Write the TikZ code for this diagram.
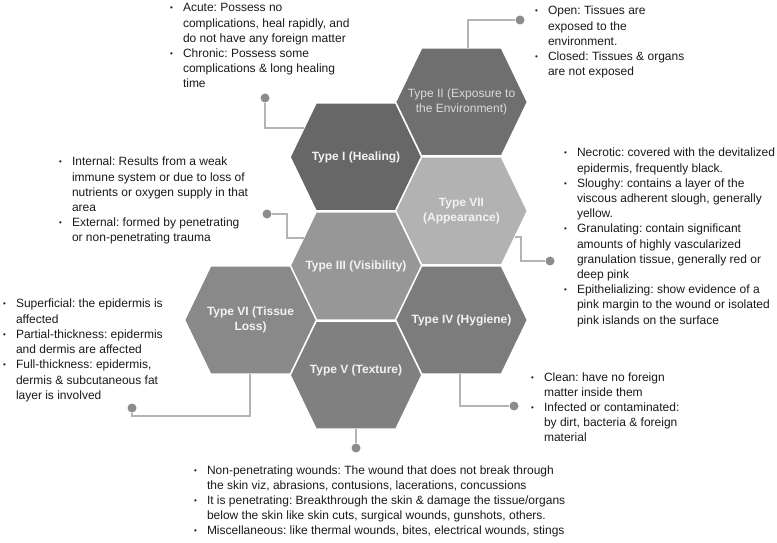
\documentclass[tikz,border=0pt]{standalone}
\usepackage{fontspec}
\setmainfont{Liberation Sans}
\frenchspacing
\definecolor{hexI}{HTML}{676767}
\definecolor{hexII}{HTML}{6F6F6F}
\definecolor{hexIII}{HTML}{979797}
\definecolor{hexIV}{HTML}{7C7C7C}
\definecolor{hexV}{HTML}{808080}
\definecolor{hexVI}{HTML}{898989}
\definecolor{hexVII}{HTML}{B2B2B2}
\definecolor{leadergray}{HTML}{B4B4B4}
\definecolor{knobgray}{HTML}{8C8C8C}
\definecolor{notetext}{HTML}{1A1A1A}
\newcommand{\dotmark}{\raisebox{1bp}{\fontsize{8bp}{8bp}\selectfont\textbullet}}
\begin{document}
\begin{tikzpicture}[x=1bp,y=-1bp,every node/.style={inner sep=0pt},
    hexcell/.style={draw=white,line width=1.5bp},
    celltext/.style={text=white!95!black,align=center,
                     font=\fontsize{12bp}{14.5bp}\selectfont\bfseries},
    notes/.style={anchor=base west,text=notetext,
                  font=\fontsize{12bp}{15.2bp}\selectfont},
    leader/.style={draw=leadergray,line width=1.3bp},
    knob/.style={circle,fill=knobgray,minimum size=9bp}]
  \useasboundingbox (0,0) rectangle (777,543);

  % centres of the cells
  \coordinate (cI) at (356,157);
  \coordinate (cII) at (461.5,102);
  \coordinate (cVII) at (461.5,211);
  \coordinate (cIII) at (356,266);
  \coordinate (cIV) at (461.5,320);
  \coordinate (cV) at (356,375);
  \coordinate (cVI) at (250.5,320);

  \fill[hexcell,fill=hexI] (cI) +(-66,0) -- +(-40,-54) -- +(40,-54) --
        +(66,0) -- +(40,54) -- +(-40,54) -- cycle;
  \fill[hexcell,fill=hexII] (cII) +(-66,0) -- +(-40,-54) -- +(40,-54) --
        +(66,0) -- +(40,54) -- +(-40,54) -- cycle;
  \fill[hexcell,fill=hexVII] (cVII) +(-66,0) -- +(-40,-54) -- +(40,-54) --
        +(66,0) -- +(40,54) -- +(-40,54) -- cycle;
  \fill[hexcell,fill=hexIII] (cIII) +(-66,0) -- +(-40,-54) -- +(40,-54) --
        +(66,0) -- +(40,54) -- +(-40,54) -- cycle;
  \fill[hexcell,fill=hexIV] (cIV) +(-66,0) -- +(-40,-54) -- +(40,-54) --
        +(66,0) -- +(40,54) -- +(-40,54) -- cycle;
  \fill[hexcell,fill=hexV] (cV) +(-66,0) -- +(-40,-54) -- +(40,-54) --
        +(66,0) -- +(40,54) -- +(-40,54) -- cycle;
  \fill[hexcell,fill=hexVI] (cVI) +(-66,0) -- +(-40,-54) -- +(40,-54) --
        +(66,0) -- +(40,54) -- +(-40,54) -- cycle;

  \node[celltext] (typeI) at (cI) {Type I (Healing)};
  \node[celltext,font=\fontsize{12bp}{15bp}\selectfont,text=white!85!black]
        (typeII) at (cII) {Type II (Exposure to\\the Environment)};
  \node[celltext] (typeVII) at (cVII) {Type VII\\(Appearance)};
  \node[celltext] (typeIII) at (cIII) {Type III (Visibility)};
  \node[celltext] (typeIV) at (cIV) {Type IV (Hygiene)};
  \node[celltext] (typeV) at ([yshift=5]cV) {Type V (Texture)};
  \node[celltext] (typeVI) at (cVI) {Type VI (Tissue\\Loss)};

  % where the leaders meet the cells
  \coordinate (eI) at (304,128);
  \coordinate (eII) at (468,48);
  \coordinate (eIII) at (303.5,238);
  \coordinate (eVII) at (515,237);
  \coordinate (eIV) at (460,374);
  \coordinate (eV) at (356,429);
  \coordinate (eVI) at (250,374);

  \node[knob] (dI) at (265,98) {};
  \node[knob] (dII) at (520,20) {};
  \node[knob] (dIII) at (267,214) {};
  \node[knob] (dVII) at (550,261) {};
  \node[knob] (dIV) at (514,406) {};
  \node[knob] (dV) at (356,448) {};
  \node[knob] (dVI) at (132,408) {};

  \draw[leader] (dI) |- (eI);
  \draw[leader] (eII) |- (dII);
  \draw[leader] (dIII) -- ++(20,0) |- (eIII);
  \draw[leader] (eVII) -- ++(6,0) |- (dVII);
  \draw[leader] (eIV) |- (dIV);
  \draw[leader] (eV) -- (dV);
  \draw[leader] (dVI) -- ++(0,8) -| (eVI);

  % the notes
  \node[notes] (notesI) at (170,12) {\begin{tabular}[t]{@{}l@{\hspace{10bp}}l@{}}
    \dotmark & Acute: Possess no\\
     & complications, heal rapidly, and\\
     & do not have any foreign matter\\
    \dotmark & Chronic: Possess some\\
     & complications \& long healing\\
     & time
  \end{tabular}};
  \node[notes] (notesII) at (535,15) {\begin{tabular}[t]{@{}l@{\hspace{10bp}}l@{}}
    \dotmark & Open: Tissues are\\
     & exposed to the\\
     & environment.\\
    \dotmark & Closed: Tissues \& organs\\
     & are not exposed
  \end{tabular}};
  \node[notes] (notesIII) at (59,166) {\begin{tabular}[t]{@{}l@{\hspace{10bp}}l@{}}
    \dotmark & Internal: Results from a weak\\
     & immune system or due to loss of\\
     & nutrients or oxygen supply in that\\
     & area\\
    \dotmark & External: formed by penetrating\\
     & or non-penetrating trauma
  \end{tabular}};
  \node[notes] (notesVII) at (564,157) {\begin{tabular}[t]{@{}l@{\hspace{10bp}}l@{}}
    \dotmark & Necrotic: covered with the devitalized\\
     & epidermis, frequently black.\\
    \dotmark & Sloughy: contains a layer of the\\
     & viscous adherent slough, generally\\
     & yellow.\\
    \dotmark & Granulating: contain significant\\
     & amounts of highly vascularized\\
     & granulation tissue, generally red or\\
     & deep pink\\
    \dotmark & Epithelializing: show evidence of a\\
     & pink margin to the wound or isolated\\
     & pink islands on the surface
  \end{tabular}};
  \node[notes] (notesVI) at (3,308) {\begin{tabular}[t]{@{}l@{\hspace{10bp}}l@{}}
    \dotmark & Superficial: the epidermis is\\
     & affected\\
    \dotmark & Partial-thickness: epidermis\\
     & and dermis are affected\\
    \dotmark & Full-thickness: epidermis,\\
     & dermis \& subcutaneous fat\\
     & layer is involved
  \end{tabular}};
  \node[notes] (notesIV) at (531,381) {\begin{tabular}[t]{@{}l@{\hspace{10bp}}l@{}}
    \dotmark & Clean: have no foreign\\
     & matter inside them\\
    \dotmark & Infected or contaminated:\\
     & by dirt, bacteria \& foreign\\
     & material
  \end{tabular}};
  \node[notes] (notesV) at (194,474) {\begin{tabular}[t]{@{}l@{\hspace{10bp}}l@{}}
    \dotmark & Non-penetrating wounds: The wound that does not break through\\
     & the skin viz, abrasions, contusions, lacerations, concussions\\
    \dotmark & It is penetrating: Breakthrough the skin \& damage the tissue/organs\\
     & below the skin like skin cuts, surgical wounds, gunshots, others.\\
    \dotmark & Miscellaneous: like thermal wounds, bites, electrical wounds, stings
  \end{tabular}};
\end{tikzpicture}
\end{document}
